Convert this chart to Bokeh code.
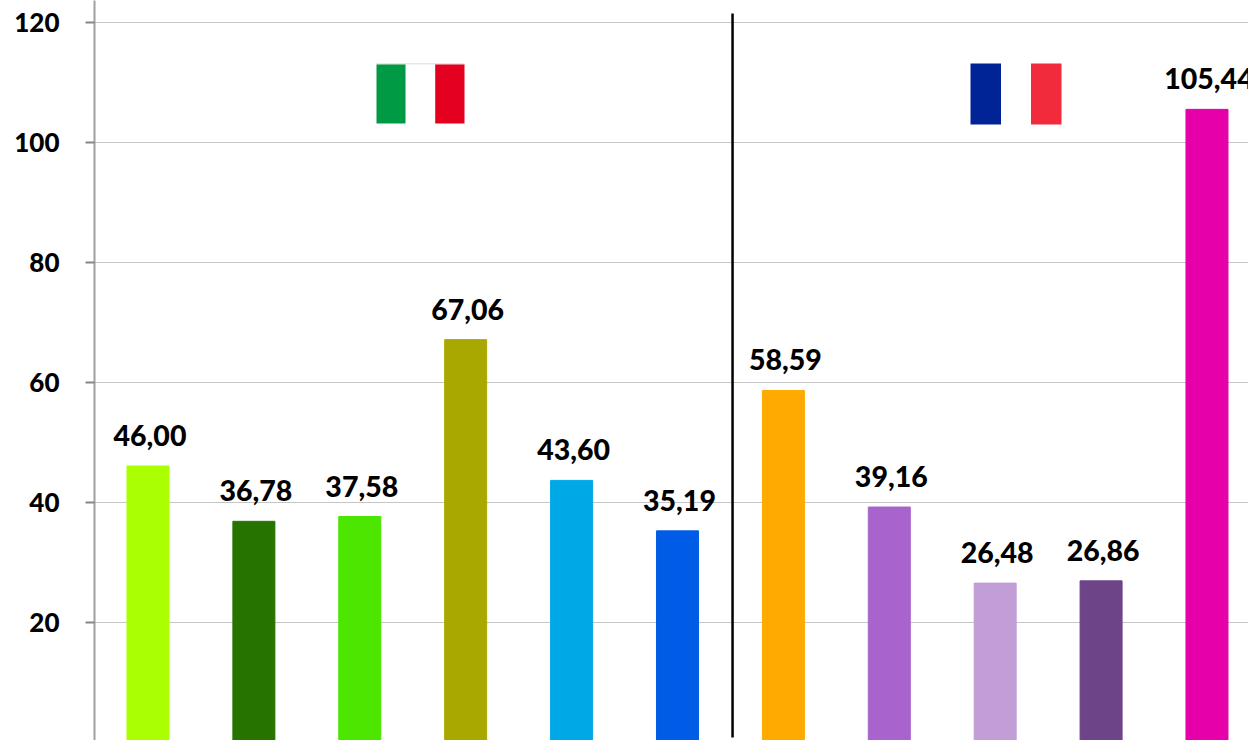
from bokeh.embed import file_html
from bokeh.resources import INLINE
from bokeh.core.properties import value
from bokeh.models import BoxAnnotation, ColumnDataSource, FixedTicker, Range1d, LinearAxis
from bokeh.plotting import figure

# Prices per product, Italian group first, then the French group
positions = [0.5, 1.5, 2.5, 3.5, 4.5, 5.5, 6.5, 7.5, 8.5, 9.5, 10.5]
values = [46.00, 36.78, 37.58, 67.06, 43.60, 35.19, 58.59, 39.16, 26.48, 26.86, 105.44]
colors = ["#AAFF00", "#267300", "#4CE600", "#A8A800", "#00A9E6", "#005CE6",
          "#FFAA00", "#A864CC", "#C29ED7", "#6E4488", "#E600A9"]
y_ticks = [20, 40, 60, 80, 100, 120]
divider_x = 6.02

WIDTH, HEIGHT = 1248, 740
FRAME_LEFT = 94
X_STEP = 105.9   # pixels per category
Y_STEP = 6.0     # pixels per unit
X_START = -0.005
Y_ZERO_PX = 741.5
FONT = "Lato Black"

labels = [f"{v:.2f}".replace(".", ",") for v in values]
source = ColumnDataSource(dict(x=positions, top=values, color=colors, label=labels))

p = figure(
    width=WIDTH, height=HEIGHT, output_backend="svg", toolbar_location=None,
    x_range=Range1d(X_START, X_START + (WIDTH - FRAME_LEFT) / X_STEP),
    y_range=Range1d((Y_ZERO_PX - HEIGHT) / Y_STEP, Y_ZERO_PX / Y_STEP),
    min_border_left=FRAME_LEFT, min_border_right=0, min_border_top=0, min_border_bottom=0,
    x_axis_location=None, y_axis_location=None,
)
p.outline_line_color = None
p.background_fill_color = "white"
p.border_fill_color = "white"

axis = LinearAxis(ticker=FixedTicker(ticks=y_ticks))
axis.axis_line_color = "#A0A0A0"
axis.axis_line_width = 2
axis.major_tick_line_color = "#868686"
axis.major_tick_line_width = 2
axis.major_tick_in = 0
axis.major_tick_out = 9
axis.minor_tick_line_color = None
axis.major_label_standoff = 26
axis.major_label_text_font = FONT
axis.major_label_text_font_style = "normal"
axis.major_label_text_font_size = "26px"
axis.major_label_text_color = "black"
p.add_layout(axis, "left")

p.xgrid.visible = False
p.ygrid.ticker = FixedTicker(ticks=y_ticks)
p.ygrid.grid_line_color = "#8C8C8C"
p.ygrid.grid_line_dash = "1 1"
p.ygrid.grid_line_width = 1

p.vbar(x="x", top="top", bottom=0, width=42 / X_STEP, color="color", source=source)
p.text(x="x", y="top", text="label", source=source, text_align="center",
       text_baseline="middle", x_offset=2, y_offset=-30.5, text_color="black",
       text_font=value(FONT), text_font_style="normal", text_font_size="28.5px")

# Vertical rule between the two country groups
p.segment(x0=[divider_x], x1=[divider_x], y0=[0.75], y1=[121.4],
          line_color="black", line_width=2.5)


def px_x(px):
    return X_START + (px - FRAME_LEFT) / X_STEP


def px_y(py):
    return (Y_ZERO_PX - py) / Y_STEP


def flag(stripes, top, bottom):
    for left, right, color in stripes:
        p.add_layout(BoxAnnotation(
            left=px_x(left), right=px_x(right), top=px_y(top), bottom=px_y(bottom),
            fill_color=color, fill_alpha=1, line_color=None, level="annotation",
        ))


# Italian tricolour, with its thin grey top edge
flag([(376, 464, "#D0D0D0")], 63, 64)
flag([(376, 405, "#009A44"), (405.5, 434.5, "#FFFFFF"), (434.7, 464, "#E4001F")], 64, 123)
# French tricolour
flag([(970, 1000.5, "#002395"), (1000.5, 1030.5, "#FFFFFF"), (1030.5, 1061, "#F22B3C")], 63, 124)

open("out.html", "w").write(file_html(p, INLINE))
